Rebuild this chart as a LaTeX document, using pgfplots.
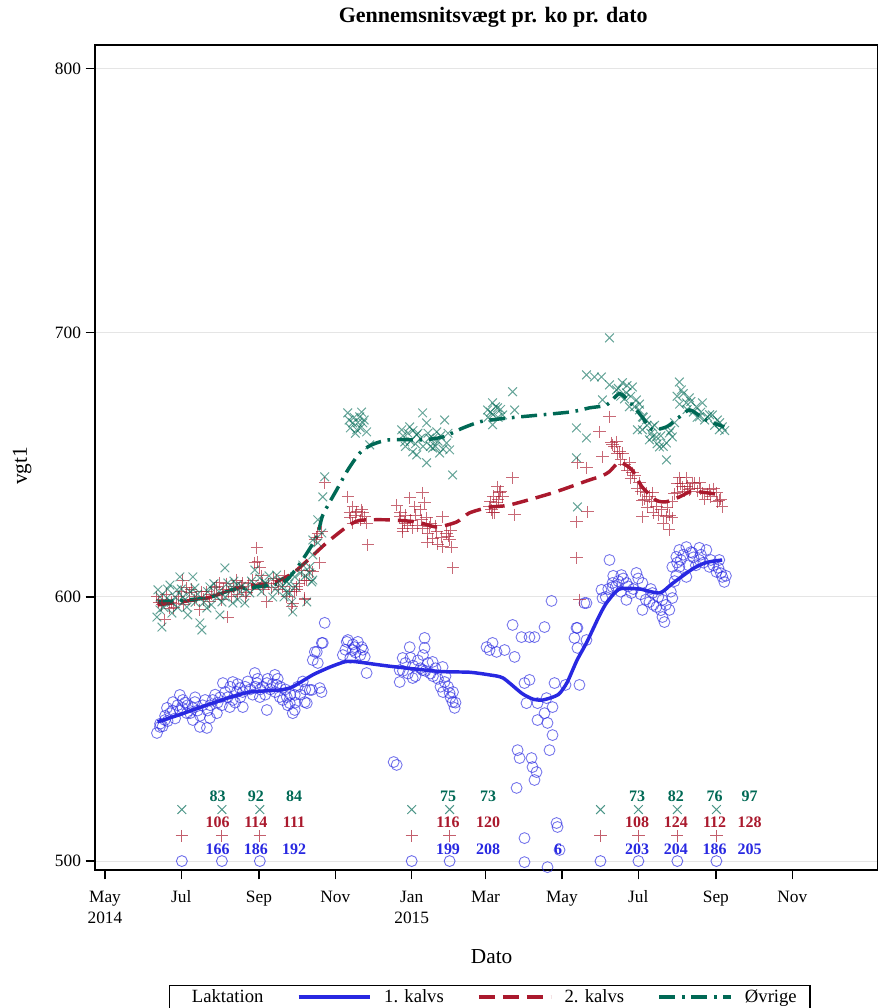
\documentclass[border=0pt]{standalone}
\usepackage{fontspec}
\setmainfont{Liberation Serif}
\usepackage{pgfplots}
\pgfplotsset{compat=1.18}
\definecolor{cblue}{RGB}{40,40,225}
\definecolor{cred}{RGB}{170,25,45}
\definecolor{cgreen}{RGB}{0,105,85}
\begin{document}
\begin{tikzpicture}
\begin{axis}[
  at={(0,0)}, anchor=south west,
  width=587pt, height=619pt, scale only axis,
  font=\fontsize{13}{15.75}\selectfont,
  xmin=-8, xmax=617, ymin=496.6, ymax=809,
  axis line style={line width=0.9pt},
  tick align=outside, major tick length=7pt,
  tick style={black, line width=0.9pt},
  xtick pos=left, ytick pos=left,
  xtick={0,61,123,184,245,304,365,426,488,549},
  xticklabels={{May\\2014},Jul,Sep,Nov,{Jan\\2015},Mar,May,Jul,Sep,Nov},
  xticklabel style={align=center, yshift=-5pt},
  ytick={500,600,700,800},
  /pgf/number format/assume math mode=true,
  ymajorgrids, grid style={black!10, line width=0.8pt},
  title={\bfseries Gennemsnitsvægt pr. ko pr. dato},
  title style={at={(0.509,1)}, anchor=base, yshift=10.5pt, font=\fontsize{16.5}{18}\selectfont},
  xlabel={Dato},
  xlabel style={at={(0.507,0)}, anchor=base, yshift=-70pt, font=\fontsize{16}{18}\selectfont},
  ylabel={vgt1},
  ylabel style={at={(-0.0932,0.49)}, anchor=center, font=\fontsize{16}{18}\selectfont},
  legend style={at={(0.5045,-0.1394)}, anchor=north, legend columns=-1,
    draw=black, line width=1pt, font=\fontsize{14}{16}\selectfont,
    inner xsep=8pt, inner ysep=1pt,
    /tikz/every odd column/.append style={column sep=7pt},
    /tikz/every even column/.append style={column sep=23pt}},
  legend image code/.code={\draw[#1] (0pt,0pt) -- (54pt,0pt);},
]
% ---- scatter: 1. kalvs
\addplot[only marks, mark=o, mark size=4.1pt, cblue, mark options={draw opacity=0.65, line width=0.65pt}, forget plot] table {
41.5 548.5
43.9 550.8
47.9 553.4
49.5 558
54.3 560.2
59.8 562.9
62.2 561
71.8 560.2
65.4 556
70.2 553.4
75.8 550.8
81.4 550.4
83.8 554.2
89.4 556
93.4 559
94.2 567.4
99.7 558.3
102.1 567.8
105.3 564
107.7 565.5
110.1 558.3
119.7 571.2
121.3 567.4
123.7 562.1
129.3 557.2
129.3 567.4
135.7 570.5
137.2 566.7
139.6 562.1
145.2 562.1
147.6 559.8
150 556
161.2 559.8
165.2 564.8
171.6 565.5
166 576.1
169.2 579.2
173.2 582.6
193.1 583
197.9 579.9
44 552
46 551
48 555
50 553
52 556
54 557
56 554
58 559
60 557
62 558
64 560
66 559
68 556
70 558
72 562
74 557
76 555
78 559
80 561
82 557
84 559
86 561
88 563
90 560
92 562
96 564
98 562
100 566
102 561
104 560
106 567
108 562
110 564
112 566
114 568
116 565
118 563
120 566
122 569
124 565
126 566
128 563
130 569
132 565
134 567
136 564
138 569
140 566
142 561
144 565
146 559
148 563
152 560
154 566
156 563
158 568
160 565
175.5 590.2
174 582.6
167.6 579.2
170 575
173 564
163.6 564.8
151.6 562.9
159.6 560.2
151.6 557.2
194 583.7
199.5 581
205 581
207.5 577.3
209 571.2
190 578
192 580
196 577
198 582
200 579
202 583
204 578
206 580
230.6 537.5
233 536.4
243.4 581
255.3 584.5
255.3 580.7
237.8 576.9
235.4 572.3
235.4 567.8
245.8 569.3
253.7 572.3
261.7 575.4
269.7 573.5
271.3 567.8
275.3 563.6
277.7 560.2
279.3 558
238 572
240 575
242 571
244 577
246 574
248 570
250 576
252 573
254 578
256 572
258 575
260 571
262 570
264 573
266 569
268 566
270 564
272 570
274 566
276 562
278 564
280 560
304.8 581
325.6 589.4
351.1 588.6
356.7 598.5
332.7 584.8
339.1 584.8
343.1 584.8
309.6 582.6
312.8 579.2
307.2 579.9
319.2 579.9
327.2 577.3
335.1 567.4
339.1 568.6
359.1 567.4
379 566.7
376.6 588.3
375 584.5
377.4 580.7
384.6 583.7
383 597.7
403 614
396.6 602.7
397.4 599.6
405.4 603.8
336.7 559.8
345.5 559.8
352.7 561.7
357.5 558.3
351.1 556
345.5 553.4
353.5 552.3
357.5 547.7
355.1 542
329.6 542
331.2 539
340.7 539
341.5 535.6
344.7 533.7
343.1 530.7
328.8 527.7
360.7 514.4
361.5 512.9
335.1 508.7
363.1 504.2
335.1 499.6
353.5 497.7
367.9 566.7
384.6 597.7
377.4 588.3
405.4 605.3
412.5 608.3
416.5 605.3
424.5 609.1
420.5 601.5
416.5 598.9
429.3 605.3
429.3 595.1
434.9 598.1
440.5 596.2
445.3 592.4
446.9 590.5
450.8 595.1
453.2 599.6
445.3 598.9
437.3 601.5
456.4 615.2
458.8 617.8
464.4 618.9
469.2 616.7
474.8 618.6
480.4 617.8
458.8 611.4
464.4 607.6
482.8 611.4
488.4 609.5
493.1 607.6
494.7 605.7
490.7 614
474.8 614
456.4 608.3
453.2 611.4
400 600
402 603
406 608
408 604
410 606
412 602
414 607
418 604
422 603
426 607
428 601
432 599
436 603
438 597
442 600
444 595
448 597
452 602
455 606
457 613
460 614
462 616
466 612
468 617
470 615
472 612
476 616
478 613
484 614
486 612
490 611
492 609
496 608
};
% ---- scatter: 2. kalvs
\addplot[only marks, mark=+, mark size=4.6pt, cred, mark options={draw opacity=0.65, line width=0.75pt}, forget plot] table {
41.5 600
45.5 597
51.9 595.8
47.9 591.3
57.5 597.7
62.2 606.4
65.4 603.4
67.8 601.5
71.8 598.9
75.8 595.1
81.4 601.9
83.8 598.1
87.8 603.4
91.8 605.3
94.2 601.5
98.1 592.4
101.3 600
105.3 606.4
107.7 603.4
110.1 605.3
113.3 601.5
118.1 606.4
121.3 618.6
119.7 612.9
122.1 613.3
123.7 611
126.1 605.3
129.3 598.1
133.3 603.4
137.2 606.4
142 603.8
145.2 600
149.2 596.2
151.6 601.9
153.2 603.8
159.6 598.9
161.2 606.4
166 609.5
171.6 612.9
167.6 621.6
170 624.2
43 598
46 599
49 601
53 598
55 596
59 600
61 602
63 597
69 603
73 600
77 602
79 599
85 601
89 604
93 599
95 603
97 605
99 602
103 604
106 601
109 604
112 600
115 605
117 603
125 608
127 603
131 605
135 607
139 603
143 608
147 602
155 605
157 610
175.5 643.2
173.2 624.6
169.2 622.7
163.6 610.2
159.6 606.4
153.2 602.7
159.6 599.6
150 597.7
193.9 637.9
197.9 634.1
195.5 631.8
201.1 632.2
205.1 633
207.5 630.3
209 628
210 619.7
196 630
198 628
200 631
204 629
206 632
233 634.8
235.4 630.3
239.4 628
243.4 637.5
247.4 634.1
237.8 624.6
245.8 626.1
253.7 639.4
255.3 635.6
253 629.2
256.9 629.9
259.3 626.5
257.7 620.8
265 624.6
269.7 630.3
268.9 622.7
272.9 624.2
275.3 621.6
276.9 618.9
277.7 611
236 632
238 626
240 631
242 627
244 629
248 631
250 627
252 633
254 626
258 624
260 628
262 622
264 627
266 620
270 619
274 623
276 625
308.8 633
312.8 635.6
315.2 639.4
313.6 641.7
317.6 637.9
325.6 645.1
327.2 631.1
309.6 631.8
307.2 634.1
308 636
310 638
311 632
314 637
316 640
376.6 628.4
376.6 614.8
379 598.9
385.4 632.2
384.6 648.9
377.4 650.8
395 662.5
397.4 653
403 668.2
408.6 658.7
405.4 657.6
409.4 654.5
404.6 658.3
407 656.8
411 654.9
413.3 654.5
418.9 650.8
421.3 647
426.9 643.2
432.5 639.4
429.3 636.7
436.5 636
429.3 630.3
440.5 634.1
444.5 633
448.5 630.3
450.8 625.4
453.2 629.9
458.8 645.1
464.4 645.1
469.2 643.2
461.2 641.7
466.8 640.5
474.8 643.2
477.2 639.4
482.8 640.5
488.4 639.4
490.7 636.7
493.1 634.1
457.2 639.4
453.2 636
437.3 639.4
412 652
415 650
417 648
420 645
423 646
425 641
428 640
431 637
433 634
435 638
438 632
442 631
446 628
449 634
451 631
455 639
457 643
460 643
463 640
465 642
468 641
471 643
473 640
476 641
479 637
481 639
484 638
486 641
489 636
492 637
};
% ---- scatter: Øvrige
\addplot[only marks, mark=x, mark size=4.6pt, cgreen, mark options={draw opacity=0.6, line width=0.75pt}, forget plot] table {
42.3 602.7
43.9 595.1
45.5 588.6
41.5 592.4
49.5 599.6
51.9 604.5
57.5 602.7
59.8 607.6
65.4 596.2
66.2 593.2
70.2 607.6
71.8 603.4
75.8 590.2
77.4 587.5
83.8 603.8
89.4 600
93.4 598.1
95.8 611
98.1 605.3
102.1 597.7
107.7 601.9
111.7 597.7
105.3 604.5
115.7 601.5
119.7 610.2
123.7 607.2
127.7 605.3
134 600
137.2 608.3
141.2 603.8
145.2 605.7
149.2 598.1
150 594.3
145.2 601.9
161.2 598.1
163.6 609.1
165.2 605.7
166 615.9
170 620.5
173.2 624.2
158 612.1
53.5 593.9
62.2 600
81.4 595.8
91.8 593.2
44 600
47 596
50 603
53 598
56 600
58 596
61 603
64 599
68 602
72 598
74 601
79 598
82 602
85 597
87 605
91 602
96 600
100 603
103 606
106 599
109 604
113 603
117 606
121 604
125 602
129 605
131 608
136 603
139 606
143 600
147 605
152 604
156 609
160 608
175.5 645.5
174 637.9
170 629.2
166 621.6
163.6 611.4
166 606.4
151.6 607.6
147.6 601.5
193.9 669.7
197.9 665.9
203.5 668.2
201.1 663.3
206 665.9
209 662.5
211.5 657.6
195 667
196 664
199 668
200 662
202 666
204 664
205 670
207 667
237 663.3
239.4 658.7
243.4 664.4
245.8 654.9
249 661.4
253.7 669.7
256.9 665.9
259.3 660.2
256.9 650.8
265 662.5
271.3 667
267.3 654.5
272.9 658.3
275.3 655.7
277.7 646.2
261.7 656.4
249 653.8
238 661
240 657
242 662
244 659
246 663
248 658
250 662
252 660
254 657
258 662
260 657
262 660
264 657
266 659
268 661
270 656
274 662
305.6 670.8
309.6 673.5
313.6 671.6
309.6 665.2
325.6 677.7
327.2 670.8
317.6 668.9
306 668
308 670
310 669
312 672
314 668
316 671
384.6 684.1
396.6 683.3
376.6 664
384.6 660.2
376.6 652.7
377.4 634.1
403 680.3
408.6 678.4
403 698.1
391 683.3
397.4 674.6
413.3 681.1
416.5 677.3
421.3 679.5
424.5 674.6
418.9 672
426.9 670.8
432.5 667
429.3 663.3
437.3 664.4
434.9 659.5
440.5 660.6
442.9 656.8
448.5 658.3
450.8 662.1
448.5 651.9
453.2 660.6
458.8 681.4
460.4 678.4
464.4 673.5
466.8 675.4
472.4 672
477.2 673.5
481.2 668.2
485.2 668.9
489.2 667
493.1 664.4
490.7 663.3
474.8 668.2
437.3 660.6
425.3 663.3
429.3 668.2
410 679
412 676
415 675
417 680
420 676
423 672
427 673
430 668
433 665
436 662
439 665
441 658
444 661
446 657
452 663
455 666
457 676
459 673
462 677
465 671
468 674
470 670
473 668
476 670
479 667
483 669
487 665
491 666
495 663
};
% ---- count markers
\addplot[only marks, mark=o, mark size=4.1pt, cblue, mark options={draw opacity=0.7, line width=0.65pt}, forget plot] table {
61.4 500
93.4 500
123.7 500
245 500
275.3 500
395.8 500
426.1 500
457.2 500
488.4 500
};
\addplot[only marks, mark=+, mark size=4.6pt, cred, mark options={draw opacity=0.7, line width=0.75pt}, forget plot] table {
61.4 509.5
93.4 509.5
123.7 509.5
245 509.5
275.3 509.5
395.8 509.5
426.1 509.5
457.2 509.5
488.4 509.5
};
\addplot[only marks, mark=x, mark size=4.6pt, cgreen, mark options={draw opacity=0.7, line width=0.75pt}, forget plot] table {
61.4 519.5
93.4 519.5
123.7 519.5
245 519.5
275.3 519.5
395.8 519.5
426.1 519.5
457.2 519.5
488.4 519.5
};
% ---- count labels
\addplot[draw=none, mark=none, forget plot, nodes near coords, point meta=explicit symbolic,
  nodes near coords style={anchor=center, text=cblue, font=\fontsize{12}{12}\selectfont\bfseries}] table[meta=lab] {
x y lab
90 504.5 166
120.5 504.5 186
151 504.5 192
274 504.5 199
306 504.5 208
362 504.5 6
425 504.5 203
456 504.5 204
487 504.5 186
515 504.5 205
};
\addplot[draw=none, mark=none, forget plot, nodes near coords, point meta=explicit symbolic,
  nodes near coords style={anchor=center, text=cred, font=\fontsize{12}{12}\selectfont\bfseries}] table[meta=lab] {
x y lab
90 514.8 106
120.5 514.8 114
151 514.8 111
274 514.8 116
306 514.8 120
425 514.8 108
456 514.8 124
487 514.8 112
515 514.8 128
};
\addplot[draw=none, mark=none, forget plot, nodes near coords, point meta=explicit symbolic,
  nodes near coords style={anchor=center, text=cgreen, font=\fontsize{12}{12}\selectfont\bfseries}] table[meta=lab] {
x y lab
90 524.6 83
120.5 524.6 92
151 524.6 84
274 524.6 75
306 524.6 73
425 524.6 73
456 524.6 82
487 524.6 76
515 524.6 97
};
% ---- legend title
\addlegendimage{empty legend}
\addlegendentry{Laktation}
% ---- smooth lines
\addplot[cblue, line width=2.6pt, smooth, tension=0.4, no marks] table {
42 552.7
60 555.5
81 559
100 562
116 564
140 564.8
150 566
166 570.5
180 573.5
192 575.5
200 575.5
227 573.8
267 571.8
291 571.5
307 570.5
318 569.3
333 563.5
342 561.3
350 561
362 563
369 567.5
377 576
385 583
395 593
401 598
411 603
427 603
443 601.5
453 605
469 610.5
480 613
493 614
};
\addlegendentry{1. kalvs}
\addplot[cred, line width=2.6pt, dash pattern=on 12pt off 6pt, smooth, tension=0.4, no marks] table {
42 597
81 599.6
108 603.6
134 605.3
150 609
161 613.5
177 620.5
193 626.5
203.5 629
227 629.2
249 628.4
265 626.5
281 628.4
291 631.8
307 634
323 634.8
357.5 639.4
387 644.3
397 645.8
403 647.5
411 651
421 648.1
429 641.7
440 636.7
448 636
459 637.9
467 639.8
475 639.8
493 638.6
};
\addlegendentry{2. kalvs}
\addplot[cgreen, line width=2.6pt, dash pattern=on 12pt off 5pt on 2pt off 5pt, smooth, tension=0.4, no marks] table {
42 598.1
81 599.6
102 602.7
134 604.5
145 606.4
155.6 612.5
169 622.7
174 631
185 640.5
194 648.1
203.5 654.5
213 657.6
227 659.5
254 659.5
270 660.6
286 664
301 666.5
323 667.8
371 670
387 671.6
400.6 672.7
411 677
419 673.9
429 668.2
437 663.3
448.5 664.4
456 667
467 670.8
480 667
494.7 664.4
};
\addlegendentry{Øvrige}
\end{axis}
\pgfresetboundingbox
\path (-71.25pt,-103.5pt) rectangle (588.75pt,652.75pt);
\end{tikzpicture}
\end{document}
